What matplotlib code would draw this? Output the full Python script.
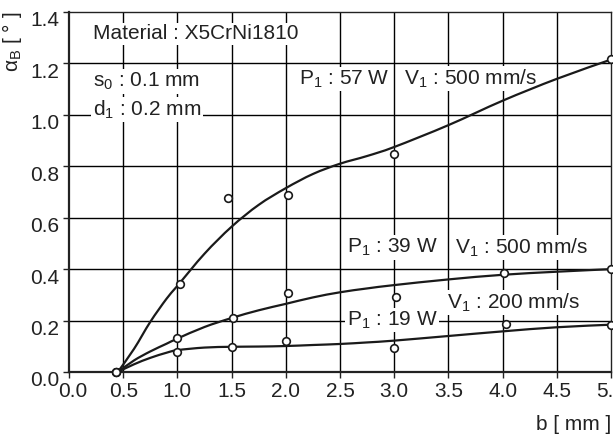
import numpy as np
import matplotlib.pyplot as plt
import matplotlib.transforms as mtransforms
from matplotlib.path import Path
from matplotlib.patches import PathPatch

plt.rcParams['font.family'] = ['Liberation Sans', 'DejaVu Sans']
plt.rcParams['mathtext.fontset'] = 'custom'
plt.rcParams['mathtext.rm'] = 'Liberation Sans'
plt.rcParams['mathtext.it'] = 'Liberation Sans'
plt.rcParams['font.size'] = 15

# measured points (open circles)
b_57 = [0.43, 1.02, 1.47, 2.02, 3.0, 5.0]
a_57 = [0.0, 0.344, 0.676, 0.689, 0.847, 1.217]
b_39 = [0.43, 1.0, 1.51, 2.02, 3.02, 4.01, 5.0]
a_39 = [0.0, 0.134, 0.211, 0.306, 0.29, 0.385, 0.40]
b_19 = [0.43, 1.0, 1.5, 2.0, 3.0, 4.03, 5.0]
a_19 = [0.0, 0.077, 0.098, 0.119, 0.095, 0.188, 0.184]

# fitted curves
b_fit = [0.45, 0.6, 0.75, 0.9, 1.0, 1.25, 1.5, 1.75, 2.0, 2.25, 2.5, 2.75, 3.0, 3.5, 4.0, 4.5, 5.0]
fit_57 = [0.0, 0.09, 0.195, 0.285, 0.335, 0.46, 0.565, 0.65, 0.715, 0.77, 0.81, 0.84, 0.875, 0.96, 1.055, 1.14, 1.215]
fit_39 = [0.0, 0.045, 0.08, 0.11, 0.13, 0.175, 0.21, 0.24, 0.265, 0.29, 0.31, 0.325, 0.338, 0.36, 0.378, 0.39, 0.40]
fit_19 = [0.0, 0.03, 0.055, 0.075, 0.085, 0.095, 0.098, 0.099, 0.101, 0.105, 0.109, 0.115, 0.122, 0.14, 0.158, 0.174, 0.184]

xticks = np.arange(0, 5.01, 0.5)
yticks = np.arange(0, 1.41, 0.2)


def smooth_path(xs, ys):
    # Catmull-Rom through the points, written as cubic Bezier segments
    p = np.column_stack([xs, ys])
    verts = [p[0]]
    codes = [Path.MOVETO]
    for i in range(len(p) - 1):
        p0 = p[i - 1] if i > 0 else p[i]
        p3 = p[i + 2] if i + 2 < len(p) else p[i + 1]
        c1 = p[i] + (p[i + 1] - p0) / 6
        c2 = p[i + 1] - (p3 - p[i]) / 6
        verts += [c1, c2, p[i + 1]]
        codes += [Path.CURVE4] * 3
    return Path(verts, codes)


fig = plt.figure(figsize=(6.13, 4.37), dpi=100)
ax = fig.add_axes([69 / 613, 65 / 437, 542 / 613, 360 / 437])

ax.set_xlim(0, 5)
ax.set_ylim(0, 1.4)
ax.set_xticks(xticks)
ax.set_yticks(yticks)
ax.set_xticklabels([f'{v:.1f}' for v in xticks])
ax.set_yticklabels([f'{v:.1f}' for v in yticks])
for s in ax.spines.values():
    s.set_linewidth(1.0)
    s.set_color('#222222')
ax.spines['left'].set_linewidth(1.6)
ax.spines['bottom'].set_linewidth(1.6)
ax.tick_params(direction='out', length=4, width=1, color='#222222',
               labelcolor='#222222', pad=3)

# grid
ax.vlines(xticks[1:-1], 0, 1.4, colors='black', linewidth=1.0, zorder=1)
ax.hlines(yticks[1:-1], 0, 5, colors='black', linewidth=1.0, zorder=1)

# y tick labels sit a little below their ticks
shift = mtransforms.ScaledTranslation(0, -7 / 100, fig.dpi_scale_trans)
for lab in ax.get_yticklabels():
    lab.set_transform(lab.get_transform() + shift)
first = ax.get_xticklabels()[0]
first.set_transform(first.get_transform() + mtransforms.ScaledTranslation(4 / 100, 0, fig.dpi_scale_trans))

for yf in [fit_57, fit_39, fit_19]:
    ax.add_patch(PathPatch(smooth_path(b_fit, yf), facecolor='none',
                           edgecolor='#1a1a1a', linewidth=1.6, zorder=3))
for bx, ay in [(b_57, a_57), (b_39, a_39), (b_19, a_19)]:
    ax.plot(bx, ay, linestyle='none', marker='o', markersize=5.5,
            markerfacecolor='white', markeredgecolor='#1a1a1a',
            markeredgewidth=1.2, zorder=4, clip_on=False)

box = dict(facecolor='white', edgecolor='none', pad=1)
tc = '#222222'
labels = [
    (0.22, 1.315, 'Material : X5CrNi1810'),
    (0.22, 1.13, 's$_0$ : 0.1 mm'),
    (0.22, 1.02, 'd$_1$ : 0.2 mm'),
    (2.12, 1.14, 'P$_1$ : 57 W'),
    (3.09, 1.14, 'V$_1$ : 500 mm/s'),
    (2.56, 0.484, 'P$_1$ : 39 W'),
    (3.56, 0.484, 'V$_1$ : 500 mm/s'),
    (3.49, 0.27, 'V$_1$ : 200 mm/s'),
    (2.56, 0.202, 'P$_1$ : 19 W'),
]
for tx, ty, s in labels:
    ax.text(tx, ty, s, va='center', color=tc, bbox=box, zorder=2)

fig.text(12 / 613, 1 - 12 / 437, 'α$_\\mathrm{B}$ [ ° ]', rotation=90,
         ha='center', va='top', color=tc)
fig.text(611 / 613, 1 - 425 / 437, 'b [ mm ]', ha='right', va='center', color=tc)

fig.savefig('out.png', dpi=100)
